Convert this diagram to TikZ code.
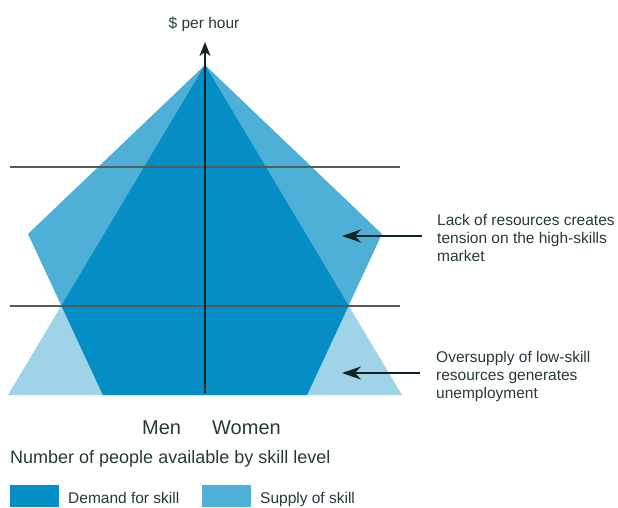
\documentclass[tikz,border=0pt]{standalone}
\usepackage{fontspec}
\setmainfont{Liberation Sans}
\usetikzlibrary{arrows.meta}
\definecolor{demandc}{HTML}{058EC5}
\definecolor{supplyc}{HTML}{4FB0D7}
\definecolor{lightc}{HTML}{9ED3E8}
\definecolor{txtc}{HTML}{263A35}
\definecolor{arrc}{HTML}{0E2622}
\definecolor{gridc}{HTML}{4F5E5B}
\tikzset{
  lbl/.style={inner sep=0pt, text=txtc, font=\fontsize{15.5}{18}\selectfont},
  biglbl/.style={inner sep=0pt, text=txtc, font=\fontsize{20}{24}\selectfont},
  midlbl/.style={inner sep=0pt, text=txtc, font=\fontsize{18}{22}\selectfont},
  gridline/.style={draw=gridc, line width=1.1pt},
  callout/.style={draw=arrc, line width=2.4pt, -{Stealth[length=19pt,width=13pt,inset=6pt]}},
  axisline/.style={draw=arrc, line width=1.5pt, -{Stealth[length=14pt,width=11pt,inset=4pt]}},
}
\begin{document}
\begin{tikzpicture}[x=1pt,y=-1pt]
\useasboundingbox (0,0) rectangle (618,507);
% demand triangle (light where not supplied)
\fill[lightc] (205,65) -- (8,395) -- (402,395) -- cycle;
% supply shape
\fill[supplyc] (205,65) -- (28,234) -- (103,395) -- (307,395) -- (382,234) -- cycle;
% overlap
\begin{scope}
  \clip (205,65) -- (8,395) -- (402,395) -- cycle;
  \fill[demandc] (205,65) -- (28,234) -- (103,395) -- (307,395) -- (382,234) -- cycle;
\end{scope}
% grid lines
\coordinate (g1a) at (10,167); \coordinate (g1b) at (400,167);
\coordinate (g2a) at (10,306); \coordinate (g2b) at (400,306);
\draw[gridline] (g1a) -- (g1b);
\draw[gridline] (g2a) -- (g2b);
% axis
\coordinate (ax0) at (205,393);
\coordinate (ax1) at (205,42);
\draw[axisline] (ax0) -- (ax1);
\node[lbl, anchor=base] (yl) at (204,28) {\$ per hour};
% callouts
\node[lbl, anchor=north west, align=left] (lack) at (437,213.7) {Lack of resources creates\\tension on the high-skills\\market};
\node[lbl, anchor=north west, align=left] (over) at (436,350.7) {Oversupply of low-skill\\resources generates\\unemployment};
\coordinate (a1s) at (422,236); \coordinate (a1e) at (342,236);
\coordinate (a2s) at (420,373); \coordinate (a2e) at (342,373);
\draw[callout] (a1s) -- (a1e);
\draw[callout] (a2s) -- (a2e);
% axis labels
\node[biglbl, anchor=base west] (men) at (142,434) {Men};
\node[biglbl, anchor=base west] (women) at (212,434) {Women};
\node[midlbl, anchor=base west] (num) at (10,463) {Number of people available by skill level};
% legend
\fill[demandc] (10,485) rectangle (59,507);
\node[lbl, anchor=base west] (ldem) at (68,503) {Demand for skill};
\fill[supplyc] (202,485) rectangle (251,507);
\node[lbl, anchor=base west] (lsup) at (260,503) {Supply of skill};
\end{tikzpicture}
\end{document}
